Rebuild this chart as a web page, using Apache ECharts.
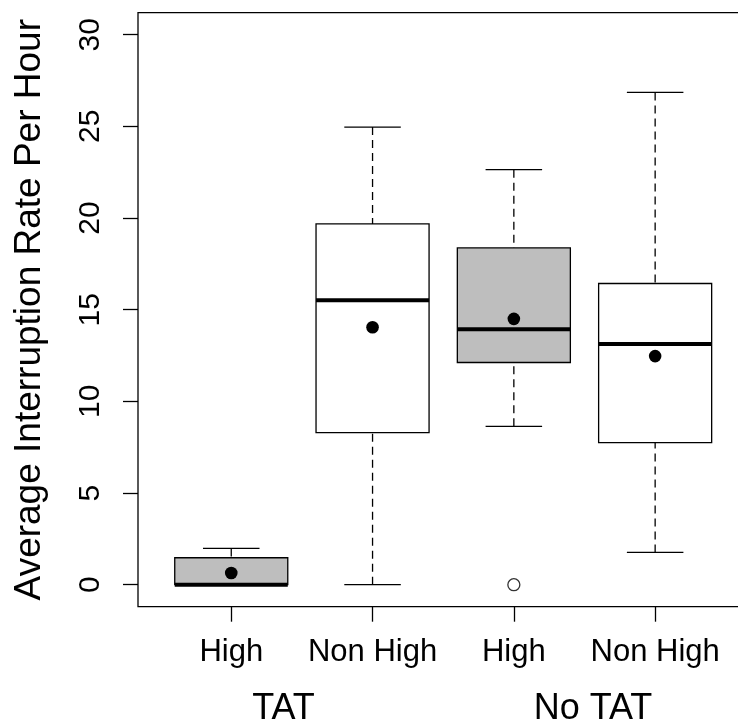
<!DOCTYPE html>
<html>
<head>
<meta charset="utf-8">
<title>Average Interruption Rate Per Hour</title>
<script src="https://cdn.jsdelivr.net/npm/echarts@6/dist/echarts.min.js"></script>
<style>
	html, body { margin: 0; padding: 0; background: #fff; }
	#chart { width: 738px; height: 725px; }
</style>
</head>
<body>
<div id="chart"></div>
<script>
	// data
	var categories = ['High', 'Non High', 'High', 'Non High'];
	var positions = [1, 2, 3, 4];
	var mins = [0, 0, 8.64, 1.76];
	var q1s = [0, 8.30, 12.12, 7.75];
	var medians = [0, 15.52, 13.93, 13.13];
	var q3s = [1.47, 19.68, 18.37, 16.43];
	var maxs = [1.98, 24.96, 22.64, 26.85];
	var means = [0.64, 14.04, 14.5, 12.47];
	var outliers = [[3, 0]];
	var groupLabels = ['TAT', 'No TAT'];
	var groupPos = [1.37, 3.56];
	var yTicks = [0, 5, 10, 15, 20, 25, 30];

	var boxFill = ['#bebebe', '#ffffff', '#bebebe', '#ffffff'];
	var font = '"Liberation Sans", Arial, Helvetica, sans-serif';

	var boxData = positions.map(function (p, i) {
		return [p, mins[i], q1s[i], medians[i], q3s[i], maxs[i], means[i]];
	});

	function renderBox(params, api) {
		var x = api.value(0);
		var lo = api.coord([x - 0.4, api.value(2)]);
		var hi = api.coord([x + 0.4, api.value(4)]);
		var cMin = api.coord([x, api.value(1)]);
		var cMax = api.coord([x, api.value(5)]);
		var cMed = api.coord([x, api.value(3)]);
		var cMean = api.coord([x, api.value(6)]);
		var capL = api.coord([x - 0.2, 0])[0];
		var capR = api.coord([x + 0.2, 0])[0];
		var dash = { stroke: '#000', lineWidth: 1.3, lineDash: [8, 5] };
		var solid = { stroke: '#000', lineWidth: 1.3 };
		var children = [];
		if (api.value(5) > api.value(4)) {
			children.push({ type: 'line', shape: { x1: cMax[0], y1: cMax[1], x2: cMax[0], y2: hi[1] }, style: dash });
		}
		if (api.value(1) < api.value(2)) {
			children.push({ type: 'line', shape: { x1: cMin[0], y1: cMin[1], x2: cMin[0], y2: lo[1] }, style: dash });
		}
		children.push({ type: 'line', shape: { x1: capL, y1: cMax[1], x2: capR, y2: cMax[1] }, style: solid });
		children.push({ type: 'line', shape: { x1: capL, y1: cMin[1], x2: capR, y2: cMin[1] }, style: solid });
		children.push({
			type: 'rect',
			shape: { x: lo[0], y: hi[1], width: hi[0] - lo[0], height: lo[1] - hi[1] },
			style: { fill: boxFill[params.dataIndex], stroke: '#000', lineWidth: 1.3 }
		});
		children.push({ type: 'line', shape: { x1: lo[0], y1: cMed[1], x2: hi[0], y2: cMed[1] }, style: { stroke: '#000', lineWidth: 4 } });
		children.push({ type: 'circle', shape: { cx: cMean[0], cy: cMean[1], r: 6.3 }, style: { fill: '#000' } });
		return { type: 'group', children: children };
	}

	var chart = echarts.init(document.getElementById('chart'));
	chart.setOption({
		backgroundColor: '#fff',
		animation: false,
		grid: {
			left: 138, top: 12.7, bottom: 118.3, right: -10.4,
			outerBoundsMode: 'none', containLabel: false,
			show: true, borderColor: '#000', borderWidth: 1.3, backgroundColor: 'transparent'
		},
		xAxis: [{
			type: 'value', min: 0.34, max: 4.66,
			splitLine: { show: false },
			axisLine: { show: false, onZero: false },
			axisTick: { show: true, customValues: positions, length: 15, lineStyle: { color: '#000', width: 1.3 } },
			axisLabel: {
				customValues: positions, margin: 30, color: '#000', fontSize: 31, fontFamily: font,
				formatter: function (v) { return categories[positions.indexOf(v)]; }
			}
		}, {
			type: 'value', min: 0.34, max: 4.66, position: 'bottom',
			splitLine: { show: false }, axisLine: { show: false, onZero: false }, axisTick: { show: false },
			axisLabel: {
				customValues: groupPos, margin: 84, color: '#000', fontSize: 36, fontFamily: font,
				formatter: function (v) { return groupLabels[groupPos.indexOf(v)]; }
			}
		}],
		yAxis: {
			type: 'value', min: -1.2, max: 31.2,
			name: 'Average Interruption Rate Per Hour',
			nameLocation: 'middle', nameRotate: 90, nameGap: 90,
			nameTextStyle: { color: '#000', fontSize: 37, fontFamily: font },
			splitLine: { show: false },
			axisLine: { show: false, onZero: false },
			axisTick: { show: true, customValues: yTicks, length: 15, lineStyle: { color: '#000', width: 1.3 } },
			axisLabel: { customValues: yTicks, rotate: 90, margin: 32, color: '#000', fontSize: 30, fontFamily: font }
		},
		series: [{
			type: 'custom',
			renderItem: renderBox,
			data: boxData,
			encode: { x: 0, y: [1, 5] },
			clip: false
		}, {
			type: 'scatter',
			data: outliers,
			symbol: 'circle', symbolSize: 12,
			itemStyle: { color: '#fff', borderColor: '#000', borderWidth: 1.3 }
		}]
	});
</script>
</body>
</html>
